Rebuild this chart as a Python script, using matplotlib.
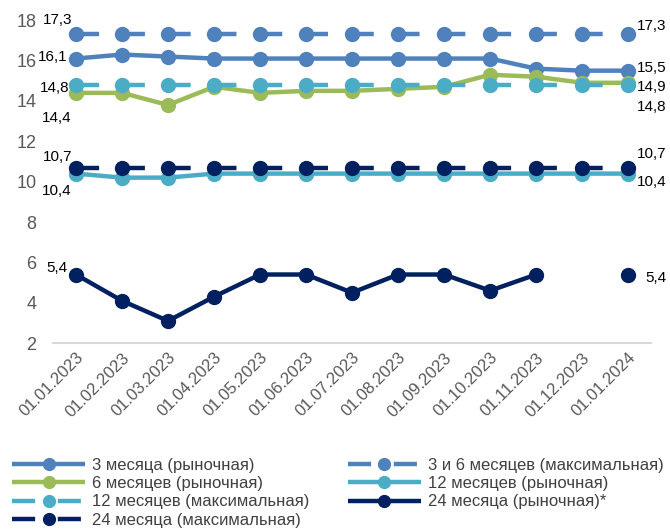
import numpy as np
import matplotlib
matplotlib.use("Agg")
import matplotlib.pyplot as plt

plt.rcParams['font.family'] = ['Liberation Sans', 'DejaVu Sans']

dates = ["01.01.2023", "01.02.2023", "01.03.2023", "01.04.2023", "01.05.2023",
         "01.06.2023", "01.07.2023", "01.08.2023", "01.09.2023", "01.10.2023",
         "01.11.2023", "01.12.2023", "01.01.2024"]

m3_market = [16.1, 16.3, 16.2, 16.1, 16.1, 16.1, 16.1, 16.1, 16.1, 16.1, 15.6, 15.5, 15.5]
m3_6_max = [17.3] * 13
m6_market = [14.4, 14.4, 13.8, 14.7, 14.4, 14.5, 14.5, 14.6, 14.7, 15.3, 15.2, 14.9, 14.9]
m12_market = [10.4, 10.2, 10.2, 10.4, 10.4, 10.4, 10.4, 10.4, 10.4, 10.4, 10.4, 10.4, 10.4]
m12_max = [14.8] * 13
m24_market = [5.4, 4.1, 3.1, 4.3, 5.4, 5.4, 4.5, 5.4, 5.4, 4.6, 5.4, np.nan, 5.4]
m24_max = [10.7] * 13

labels = ["3 месяца (рыночная)", "3 и 6 месяцев (максимальная)",
          "6 месяцев (рыночная)", "12 месяцев (рыночная)",
          "12 месяцев (максимальная)", "24 месяца (рыночная)*",
          "24 месяца (максимальная)"]

c_blue = "#4F81BD"
c_green = "#9BBB59"
c_light = "#4BACC6"
c_navy = "#002060"

fig = plt.figure(figsize=(6.7, 5.32), dpi=100)
ax = fig.add_axes([0.079, 0.355, 0.893, 0.607])

x = np.arange(len(dates))
lw = 3.2
ms = 10
dash = (0, (5.2, 5.1))

series = [
    (m3_market, c_blue, "-", labels[0]),
    (m3_6_max, c_blue, dash, labels[1]),
    (m6_market, c_green, "-", labels[2]),
    (m12_market, c_light, "-", labels[3]),
    (m12_max, c_light, dash, labels[4]),
    (m24_market, c_navy, "-", labels[5]),
    (m24_max, c_navy, dash, labels[6]),
]
handles = {}
for vals, col, ls, lab in series:
    h, = ax.plot(x, vals, color=col, linestyle=ls, linewidth=lw, marker="o",
                 markersize=ms, label=lab, solid_capstyle="butt")
    handles[lab] = h

# подписи значений на первой и последней дате
def label(xi, val, dx, dy, ha):
    ax.annotate(f"{val:.1f}".replace(".", ","), (xi, val), xytext=(dx, dy),
                textcoords="offset pixels", ha=ha, va="center",
                fontsize=11, color="black", annotation_clip=False)

label(0, m3_6_max[0], -4, 14, "right")
label(0, m3_market[0], -8, 2, "right")
label(0, m12_max[0], -6, -3, "right")
label(0, m6_market[0], -4, -25, "right")
label(0, m24_max[0], -4, 11, "right")
label(0, m12_market[0], -4, -17, "right")
label(0, m24_market[0], -8, 7, "right")

n = len(dates) - 1
label(n, m3_6_max[n], 9, 8, "left")
label(n, m3_market[n], 9, 3, "left")
label(n, m6_market[n], 9, -4, "left")
label(n, m12_max[n], 9, -22, "left")
label(n, m24_max[n], 9, 14, "left")
label(n, m12_market[n], 9, -8, "left")
label(n, m24_market[n], 17, -3, "left")

ax.set_xlim(-0.5, n + 0.5)
ax.set_ylim(2, 18)
ax.set_yticks(range(2, 19, 2))
ax.set_xticks(x)
ax.set_xticklabels(dates, rotation=45, ha="right", rotation_mode="anchor")
ax.tick_params(axis="y", length=0, labelsize=13, colors="#595959", pad=12)
ax.tick_params(axis="x", length=0, labelsize=12, colors="#595959", pad=5)
for s in ["top", "right", "left"]:
    ax.spines[s].set_visible(False)
ax.spines["bottom"].set_color("#D9D9D9")
ax.spines["bottom"].set_linewidth(1.5)

order = [labels[0], labels[2], labels[4], labels[6], labels[1], labels[3], labels[5]]
fig.legend([handles[l] for l in order], order, loc="upper left",
           bbox_to_anchor=(0.008, 0.152), bbox_transform=fig.transFigure,
           ncol=2, frameon=False, fontsize=12, handlelength=4.4,
           handletextpad=0.4, labelspacing=0.2, columnspacing=2.3,
           markerscale=0.85, labelcolor="#404040", borderaxespad=0)

fig.savefig("out.png", dpi=100)
